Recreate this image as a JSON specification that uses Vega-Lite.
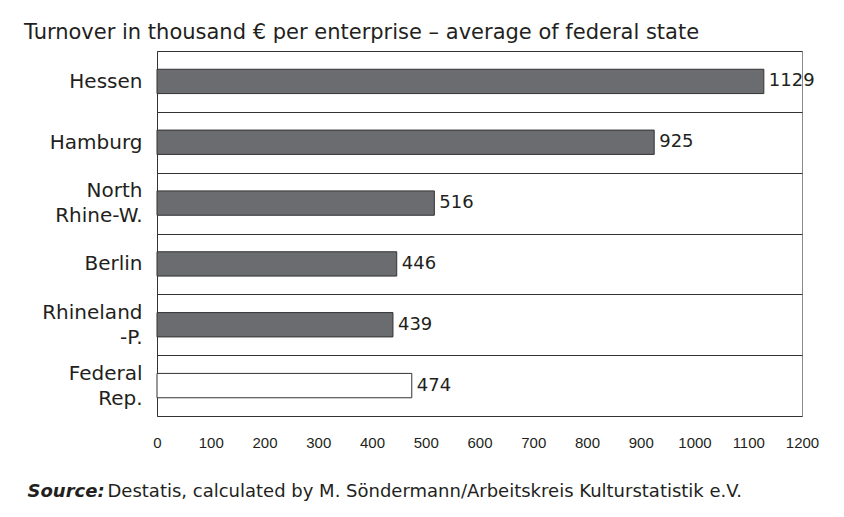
{
  "$schema": "https://vega.github.io/schema/vega-lite/v6.json",
  "width": 645,
  "height": 365,
  "autosize": {"type": "none"},
  "padding": {"left": 157, "top": 51, "right": 42, "bottom": 101},
  "background": "white",
  "title": {
    "text": "Turnover in thousand € per enterprise – average of federal state",
    "anchor": "start",
    "frame": "group",
    "dx": -133,
    "dy": 31,
    "offset": 12,
    "baseline": "alphabetic",
    "font": "DejaVu Sans",
    "fontSize": 21,
    "fontWeight": "normal",
    "color": "#231f20"
  },
  "data": {
    "values": [
      {"state": "Hessen", "value": 1129, "group": "state"},
      {"state": "Hamburg", "value": 925, "group": "state"},
      {"state": "North\nRhine-W.", "value": 516, "group": "state"},
      {"state": "Berlin", "value": 446, "group": "state"},
      {"state": "Rhineland\n-P.", "value": 439, "group": "state"},
      {"state": "Federal\nRep.", "value": 474, "group": "federal"}
    ]
  },
  "encoding": {
    "y": {
      "field": "state",
      "type": "nominal",
      "sort": null,
      "scale": {"paddingInner": 0, "paddingOuter": 0},
      "axis": {
        "title": "Source:",
        "titleAngle": 0,
        "titleX": -130,
        "titleY": 445,
        "titleAlign": "left",
        "titleBaseline": "alphabetic",
        "titleFont": "DejaVu Sans",
        "titleFontSize": 18,
        "titleFontWeight": "bold",
        "titleFontStyle": "italic",
        "titleColor": "#231f20",
        "labelExpr": "datum.value ? split(datum.value, '\\n') : ''",
        "labelOffset": {"condition": {"test": "datum.value && indexof(datum.value, '\\n') >= 0", "value": -12.5}, "value": 0},
        "labelFont": "DejaVu Sans",
        "labelFontSize": 20,
        "labelLineHeight": 25,
        "labelPadding": 15,
        "labelColor": "#231f20",
        "labelLimit": 0,
        "ticks": false,
        "tickBand": "extent",
        "grid": true,
        "gridColor": "#333333",
        "gridWidth": 1,
        "domainColor": "#333333"
      }
    },
    "x": {
      "field": "value",
      "type": "quantitative",
      "scale": {"domain": [0, 1200], "nice": false},
      "axis": {
        "values": [0, 100, 200, 300, 400, 500, 600, 700, 800, 900, 1000, 1100, 1200],
        "format": "d",
        "labelFlush": false,
        "labelOverlap": false,
        "grid": false,
        "ticks": false,
        "domain": false,
        "labelPadding": 19,
        "labelFont": "Liberation Sans",
        "labelFontSize": 15,
        "labelColor": "#231f20",
        "title": "Destatis, calculated by M. Söndermann/Arbeitskreis Kulturstatistik e.V.",
        "titleX": -50,
        "titleY": 80,
        "titleAlign": "left",
        "titleBaseline": "alphabetic",
        "titleFont": "DejaVu Sans",
        "titleFontSize": 18,
        "titleFontWeight": "normal",
        "titleColor": "#231f20"
      }
    }
  },
  "layer": [
    {
      "mark": {"type": "bar", "height": {"band": 0.4}, "stroke": "#333333", "strokeWidth": 1},
      "encoding": {
        "fill": {
          "field": "group",
          "type": "nominal",
          "scale": {"domain": ["state", "federal"], "range": ["#6b6c70", "#ffffff"]},
          "legend": null
        }
      }
    },
    {
      "mark": {"type": "text", "align": "left", "dx": 5, "baseline": "middle", "font": "DejaVu Sans", "fontSize": 18, "color": "#231f20"},
      "encoding": {"text": {"field": "value", "type": "quantitative"}}
    }
  ],
  "config": {"view": {"stroke": "#8a8a8a"}}
}
